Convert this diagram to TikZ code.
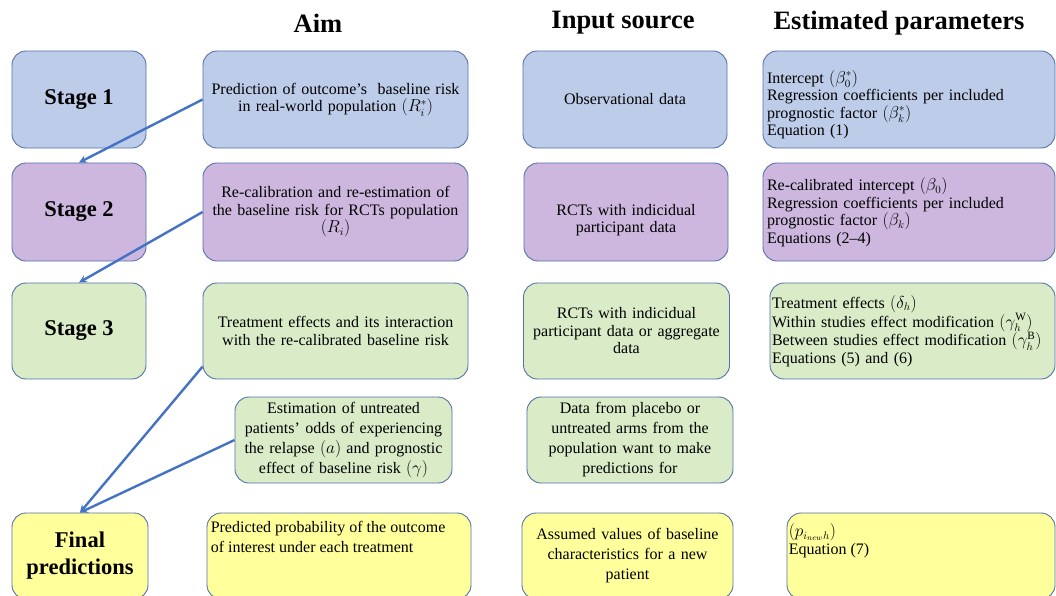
\documentclass[tikz,border=0pt]{standalone}
\usepackage{fontspec}
\setmainfont{Liberation Serif}
\usetikzlibrary{arrows}
\definecolor{bluefill}{RGB}{189,204,232}
\definecolor{purplefill}{RGB}{205,183,222}
\definecolor{greenfill}{RGB}{217,236,199}
\definecolor{yellowfill}{RGB}{255,255,155}
\definecolor{boxline}{RGB}{84,114,170}
\definecolor{arrowblue}{RGB}{68,114,196}
\tikzset{
  box/.style={draw=boxline,line width=0.9pt,rounded corners=14pt,inner sep=4pt,font=\fontsize{16}{17.5}\selectfont},
  bigtext/.style={font=\fontsize{16}{20}\selectfont},
  stagebox/.style={box,font=\fontsize{22.5}{27}\selectfont\bfseries,align=center},
  head/.style={font=\fontsize{26.5}{30}\selectfont\bfseries},
  link/.style={->,>=stealth,line width=2.4pt,draw=arrowblue},
}
\begin{document}
\begin{tikzpicture}[x=1pt,y=-1pt]
    \useasboundingbox (0,0) rectangle (1056,595);
    \node[head](hAim) at (318,23){Aim};%見出し
    \node[head](hInput) at (623,23){Input source};
    \node[head](hParam) at (899,23){Estimated parameters};
    %Stage 1
    \node[stagebox,fill=bluefill,minimum width=134pt,minimum height=97pt](stageA) at (79,99.5){Stage 1};
    \node[box,fill=bluefill,minimum width=265pt,minimum height=97pt,text width=257pt,align=center](aimA) at (335.5,99.5){Prediction of outcome’s\ \ baseline risk\\in real-world population $(R_i^*)$};
    \node[box,fill=bluefill,minimum width=204pt,minimum height=97pt,text width=194pt,align=center](inputA) at (625,99.5){Observational data};
    \node[box,fill=bluefill,minimum width=292pt,minimum height=97pt,text width=284pt,align=left](paramA) at (909,99.5){\rule{0pt}{23pt}Intercept $(\beta_0^*)$\\Regression coefficients per included\\prognostic factor $(\beta_k^*)$\\Equation (1)};
    %Stage 2
    \node[stagebox,fill=purplefill,minimum width=134pt,minimum height=98pt](stageB) at (79,212){Stage 2};
    \node[box,fill=purplefill,minimum width=265pt,minimum height=98pt,text width=257pt,align=center](aimB) at (335.5,212){Re-calibration and re-estimation of\\the baseline risk for RCTs population\\$(R_i)$};
    \node[box,fill=purplefill,minimum width=204pt,minimum height=98pt,text width=194pt,align=center](inputB) at (626,212){\rule{0pt}{27pt}RCTs with indicidual\\participant data};
    \node[box,fill=purplefill,minimum width=292pt,minimum height=98pt,text width=284pt,align=left](paramB) at (909,212){Re-calibrated intercept $(\beta_0)$\\Regression coefficients per included\\prognostic factor $(\beta_k)$\\Equations (2--4)};
    %Stage 3
    \node[stagebox,fill=greenfill,minimum width=134pt,minimum height=96pt](stageC) at (79,331){Stage 3};
    \node[box,fill=greenfill,minimum width=265pt,minimum height=96pt,text width=257pt,align=center](aimC) at (335.5,331){Treatment effects and its interaction\\with the re-calibrated baseline risk};
    \node[box,fill=greenfill,minimum width=206pt,minimum height=96pt,text width=198pt,align=center](inputC) at (626.5,331){RCTs with indicidual\\participant data or aggregate\\data};
    \node[box,fill=greenfill,minimum width=285pt,minimum height=96pt,text width=281pt,inner xsep=2pt,align=left](paramC) at (912.5,331){Treatment effects $(\delta_h)$\\Within studies effect modification $\left(\gamma_h^{\mathrm{W}}\right)$\\Between studies effect modification $\left(\gamma_h^{\mathrm{B}}\right)$\\Equations (5) and (6)};
    %untreated arms
    \node[box,bigtext,fill=greenfill,minimum width=217pt,minimum height=86pt,text width=209pt,align=center](aimD) at (343.5,440){Estimation of untreated\\patients’ odds of experiencing\\the relapse $(a)$ and prognostic\\effect of baseline risk $(\gamma)$};
    \node[box,bigtext,fill=greenfill,minimum width=206pt,minimum height=86pt,text width=198pt,align=center](inputD) at (630,440){Data from placebo or\\untreated arms from the\\population want to make\\predictions for};
    %Final
    \node[stagebox,fill=yellowfill,minimum width=136pt,minimum height=86pt](stageE) at (80,556){Final\\predictions};
    \node[box,fill=yellowfill,minimum width=264pt,minimum height=86pt](aimE) at (339,556){};
    \node[bigtext,anchor=north west,inner sep=0pt,align=left](aimEtxt) at ([xshift=4pt,yshift=-8pt]aimE.north west){Predicted probability of the outcome\\of interest under each treatment};
    \node[box,bigtext,fill=yellowfill,minimum width=211pt,minimum height=86pt,text width=203pt,align=center](inputE) at (627.5,556){Assumed values of baseline\\characteristics for a new\\patient};
    \node[box,fill=yellowfill,minimum width=268pt,minimum height=86pt](paramE) at (921,556){};
    \node[bigtext,anchor=north west,inner sep=0pt,align=left](paramEtxt) at ([xshift=2pt,yshift=-11pt]paramE.north west){$(p_{i_{new}h})$\\[-2pt]Equation (7)};
    %矢印
    \draw[link](aimA.west)--(stageB.north);
    \draw[link](aimB.west)--(stageC.north);
    \draw[link](aimC.195)--(stageE.north);
    \draw[link](aimD.west)--(stageE.north);
\end{tikzpicture}
\end{document}
